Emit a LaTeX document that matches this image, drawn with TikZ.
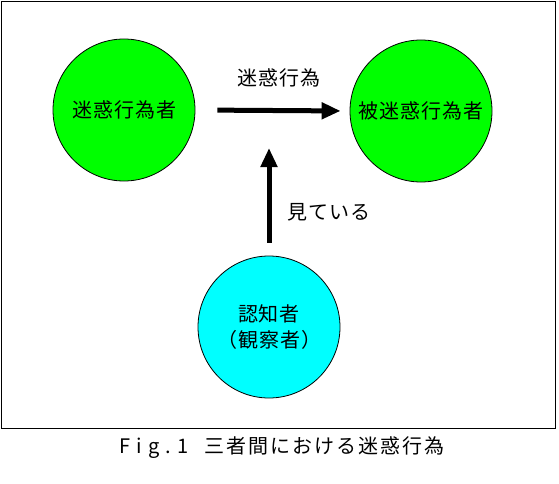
\documentclass[tikz,border=0pt]{standalone}
\usepackage{fontspec}
\setmainfont{Noto Sans CJK JP}
\usepackage{xcolor}
\definecolor{actgreen}{RGB}{0, 255, 0}
\definecolor{obscyan}{RGB}{0, 255, 255}
\usetikzlibrary{arrows.meta, positioning}
\tikzset{
  person/.style={circle, draw=black, line width=0.8pt, minimum size=142pt,
    inner sep=0pt, align=center,
    font=\fontsize{20}{26}\selectfont\addfontfeature{LetterSpace=5}},
  actorA/.style={person, fill=actgreen},
  actorB/.style={person, fill=obscyan},
  mainarrow/.style={-{Triangle[length=19pt, width=16pt]}, line width=5pt, color=black},
  label/.style={font=\fontsize{20}{24}\selectfont\addfontfeature{LetterSpace=5}, inner sep=0pt}
}
\begin{document}
\begin{tikzpicture}[x=1pt, y=-1pt]

  \useasboundingbox[fill=white] (0,0) rectangle (559,484);
  \draw[line width=0.8pt] (1.5,1.5) rectangle (555,428);

  \node[actorA] (actor) at (124,110) {迷惑行為者};
  \node[actorA] (victim) at (421,111) {被迷惑行為者};
  \node[actorB] (observer) at (269,327) {認知者\\（観察者）};

  \coordinate (gaze) at (269,148);

  \draw[mainarrow, shorten <=22pt, shorten >=9pt] (actor.east) -- (victim.west);
  \draw[mainarrow, shorten <=13pt] (observer.north) -- (gaze);

  \node[label] (acttext) at (279,78) {迷惑行為};
  \node[label, anchor=west] (seetext) at (287,212) {見ている};

  \node[label] (caption) at (282,448)
    {{\addfontfeature{LetterSpace=30}Fig.1}\hspace{16pt}{\addfontfeature{LetterSpace=10}三者間における迷惑行為}};

\end{tikzpicture}
\end{document}
